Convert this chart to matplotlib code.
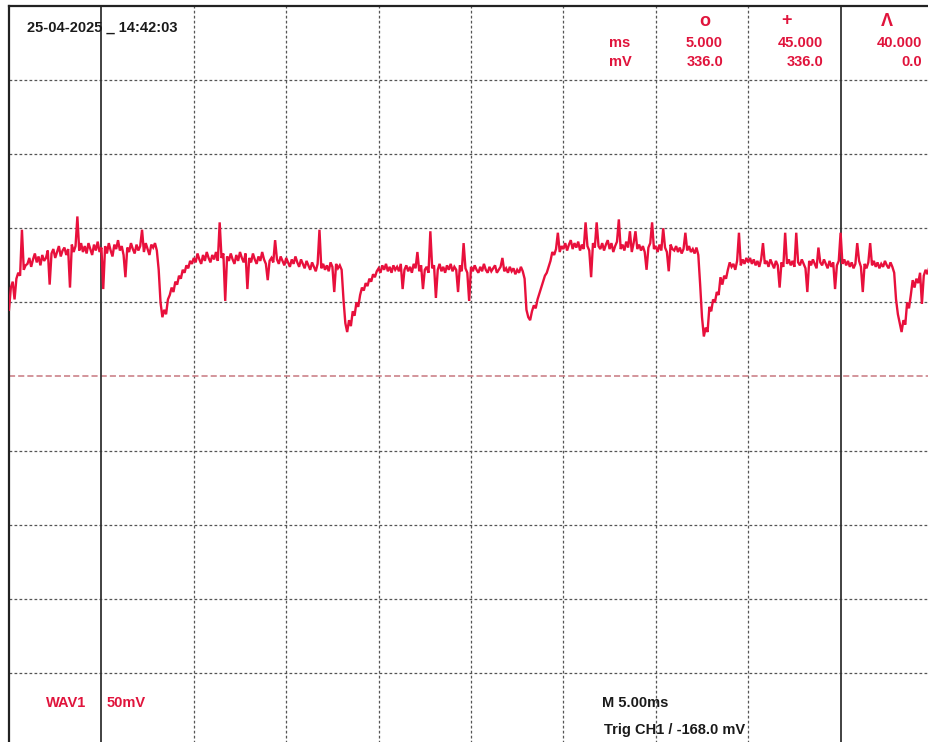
import numpy as np
import matplotlib
matplotlib.use("Agg")
import matplotlib.pyplot as plt

# ---- data ----
sample_step_ms = 0.1
trace_mv = [
    45, 60, 64, 52, 66, 70, 68, 99, 72, 75,
    76, 80, 74, 79, 83, 77, 81, 75, 82, 78,
    80, 85, 62, 83, 86, 80, 84, 88, 81, 85,
    87, 82, 86, 60, 89, 84, 88, 108, 85, 90,
    84, 88, 83, 90, 86, 82, 89, 85, 91, 84,
    87, 59, 88, 83, 90, 85, 81, 89, 86, 92,
    85, 88, 82, 67, 87, 84, 90, 86, 83, 89,
    85, 88, 99, 84, 90, 86, 82, 89, 87, 90,
    85, 72, 50, 40, 45, 42, 52, 55, 60, 57,
    64, 62, 68, 66, 72, 70, 75, 73, 78, 76,
    80, 77, 83, 79, 76, 82, 78, 84, 80, 77,
    82, 79, 84, 78, 104, 80, 83, 51, 81, 78,
    83, 79, 76, 82, 78, 84, 80, 77, 83, 59,
    80, 77, 83, 79, 76, 81, 78, 84, 79, 76,
    65, 78, 80, 77, 92, 79, 76, 81, 78, 75,
    80, 77, 74, 79, 76, 81, 77, 74, 79, 76,
    73, 78, 75, 72, 77, 74, 71, 76, 99, 73,
    76, 72, 75, 71, 77, 74, 57, 76, 73, 75,
    72, 52, 36, 30, 38, 34, 44, 41, 50, 47,
    55, 60, 58, 63, 61, 66, 64, 69, 67, 71,
    73, 70, 75, 72, 76, 71, 74, 70, 75, 72,
    74, 71, 76, 59, 72, 75, 71, 74, 70, 76,
    73, 84, 71, 75, 59, 72, 74, 70, 98, 73,
    75, 53, 72, 76, 71, 74, 70, 75, 72, 76,
    71, 74, 72, 57, 75, 71, 90, 73, 70, 51,
    74, 71, 75, 72, 70, 74, 71, 76, 72, 70,
    74, 71, 73, 75, 70, 72, 74, 80, 71, 73,
    70, 74, 71, 73, 69, 72, 70, 74, 71, 66,
    45, 40, 38, 44, 48, 46, 52, 56, 60, 64,
    68, 70, 74, 78, 84, 82, 86, 97, 84, 88,
    86, 90, 85, 89, 92, 86, 90, 87, 91, 85,
    89, 86, 104, 88, 85, 67, 90, 87, 104, 88,
    86, 90, 85, 89, 92, 86, 90, 84, 88, 91,
    106, 86, 89, 85, 91, 87, 98, 84, 90, 98,
    86, 89, 85, 88, 84, 72, 87, 90, 104, 86,
    88, 84, 89, 85, 100, 87, 84, 71, 89, 86,
    85, 88, 84, 87, 83, 86, 97, 85, 88, 84,
    86, 83, 87, 82, 62, 40, 27, 33, 30, 47,
    44, 52, 50, 57, 55, 67, 62, 68, 66, 72,
    77, 74, 76, 72, 78, 97, 75, 79, 76, 80,
    77, 80, 76, 79, 75, 78, 74, 79, 90, 76,
    78, 74, 79, 76, 73, 78, 75, 60, 77, 74,
    97, 76, 79, 75, 78, 74, 97, 77, 75, 79,
    76, 73, 57, 78, 75, 79, 76, 73, 87, 77,
    75, 79, 76, 73, 78, 74, 77, 59, 75, 78,
    97, 76, 79, 75, 78, 74, 77, 73, 76, 90,
    78, 74, 57, 76, 73, 77, 90, 75, 78, 74,
    77, 73, 76, 74, 78, 75, 73, 77, 74, 70,
    52, 42, 36, 30, 38, 35, 50, 46, 55, 65,
    60, 66, 63, 70, 49, 68, 72, 69, 74, 71,
    73,
]
time_ms = np.arange(len(trace_mv)) * sample_step_ms

cursor_ms = [5.0, 45.0]
time_per_div_ms = 5.0
volt_per_div_mv = 50.0
n_div_x = 10
n_div_y = 10

header_date = "25-04-2025 _ 14:42:03"
readout_symbols = ["o", "+", "\u039b"]
readout_ms = ["5.000", "45.000", "40.000"]
readout_mv = ["336.0", "336.0", "0.0"]
channel_label = "WAV1"
scale_label = "50mV"
timebase_label = "M 5.00ms"
trigger_label = "Trig CH1 / -168.0 mV"

# ---- figure ----
W, H = 929, 742
fig = plt.figure(figsize=(W / 100, H / 100), dpi=100)
fig.patch.set_facecolor("white")
plt.rcParams["font.family"] = ["Liberation Sans", "DejaVu Sans"]

# screen: left edge at px 9, top at px 6, 92.4 px per x-div, 74.1 px per y-div
left_px, top_px = 9, 6
wpx, hpx = 92.4 * n_div_x, 74.1 * n_div_y
ax = fig.add_axes([left_px / W, 1 - (top_px + hpx) / H, wpx / W, hpx / H])
xmax = time_per_div_ms * n_div_x
ymax = volt_per_div_mv * n_div_y / 2
ax.set_xlim(0, xmax)
ax.set_ylim(-ymax, ymax)
ax.set_xticks([])
ax.set_yticks([])
for s in ["right", "bottom"]:
    ax.spines[s].set_visible(False)
for s in ["left", "top"]:
    ax.spines[s].set_color("#222222")
    ax.spines[s].set_linewidth(1.6)

grid_kw = dict(color="#555555", lw=0.9, ls=(0, (2.2, 1.8)), zorder=1)
for k in range(1, n_div_x):
    xv = k * time_per_div_ms
    if xv in cursor_ms:
        continue
    ax.axvline(xv, **grid_kw)
for k in range(1, n_div_y):
    yv = -ymax + k * volt_per_div_mv
    if abs(yv) < 1e-9:
        ax.axhline(0, color="#c87880", lw=1.1, ls=(0, (4, 2)), zorder=1)
    else:
        ax.axhline(yv, **grid_kw)
for c in cursor_ms:
    ax.axvline(c, color="#333333", lw=1.3, zorder=2)

ax.plot(time_ms, trace_mv, color="#e8103c", lw=1.7, zorder=3,
        solid_joinstyle="miter")

# ---- text ----
def put(x, y, s, color, size=10.5, ha="left"):
    fig.text(x / W, 1 - y / H, s, color=color, fontsize=size,
             fontweight="bold", ha=ha, va="center")

red = "#e0143c"
black = "#1a1a1a"
put(27, 28, header_date, black, 10.5)

put(630, 43, "ms", red, ha="right")
put(632, 62, "mV", red, ha="right")
sym_x = [705, 787, 887]
val_right = [723, 823, 922]
for sx, vr, sym, vms, vmv in zip(sym_x, val_right, readout_symbols, readout_ms, readout_mv):
    put(sx, 21, sym, red, 13, ha="center")
    put(vr, 43, vms, red, ha="right")
    put(vr, 62, vmv, red, ha="right")

put(46, 703, channel_label, red)
put(107, 703, scale_label, red)
put(602, 703, timebase_label, black)
put(604, 730, trigger_label, black)

fig.savefig("out.png", dpi=100, facecolor="white")
